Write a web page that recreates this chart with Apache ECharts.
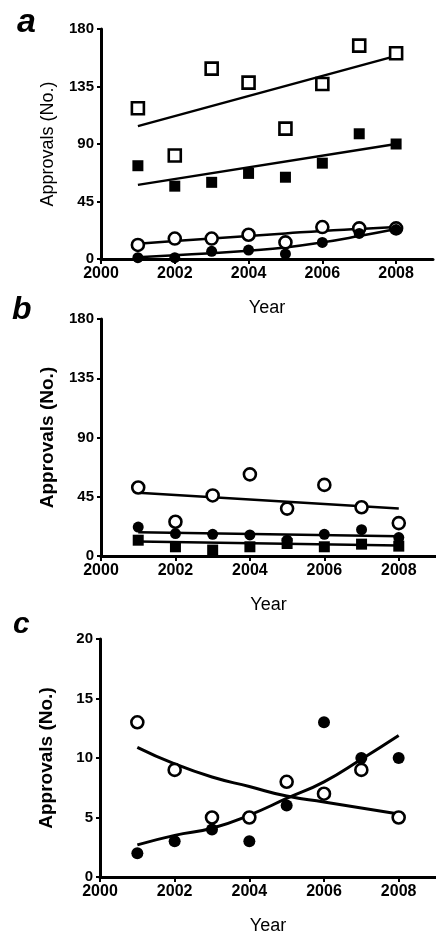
<!DOCTYPE html>
<html>
<head>
<meta charset="utf-8">
<script src="https://cdn.jsdelivr.net/npm/echarts@6/dist/echarts.min.js"></script>
<style>
html,body{margin:0;padding:0;background:#fff;}
#main{width:436px;height:936px;}
</style>
</head>
<body>
<div id="main"></div>
<script>
var years = [2001, 2002, 2003, 2004, 2005, 2006, 2007, 2008];
var fitEnds = [2001, 2008];
var xTicks = [2000, 2002, 2004, 2006, 2008];

// panel a
var aOpenSq = [118, 81, 149, 138, 102, 137, 167, 161];
var aFillSq = [73, 57, 60, 67, 64, 75, 98, 90];
var aOpenCirc = [11, 16, 16, 19, 13, 25, 24, 24];
var aFillCirc = [1, 1, 6, 7, 4, 13, 20, 23];
var aFitOpenSq = [104, 159];
var aFitFillSq = [58, 90];
var aFitOpenCirc = [12, 14, 16, 18, 20, 22, 23.5, 25];
var aFitFillCirc = [1.3, 3, 4.5, 6.5, 9, 13, 18, 23.5];

// panel b
var bOpenCirc = [52, 26, 46, 62, 36, 54, 37, 25];
var bFillCirc = [22, 17, 16.5, 16, 12, 16.5, 20, 14];
var bFillSq = [12, 7, 4.5, 7, 9.5, 7, 9, 7.5];
var bFitOpenCirc = [48, 36];
var bFitFillCirc = [18, 15];
var bFitFillSq = [11, 8];

// panel c
var cFill = [2, 3, 4, 3, 6, 13, 10, 10];
var cOpen = [13, 9, 5, 5, 8, 7, 9, 5];
var cFitFill = [2.7, 3.5, 4.1, 5.2, 6.6, 8.0, 9.9, 11.9];
var cFitOpen = [10.9, 9.5, 8.4, 7.6, 6.8, 6.3, 5.8, 5.3];

var font = 'Liberation Sans';

function pair(xs, ys) {
	return xs.map(function (x, i) { return [x, ys[i]]; });
}

function xAxisOf(idx) {
	return {
		gridIndex: idx, type: 'value', min: 2000, max: 2009,
		name: 'Year', nameLocation: 'middle', nameGap: 40,
		nameTextStyle: { fontFamily: font, fontSize: 18, color: '#000' },
		axisLine: { lineStyle: { color: '#000', width: 3 } },
		axisTick: { length: 5, lineStyle: { color: '#000', width: 2 }, customValues: xTicks },
		axisLabel: {
			fontFamily: font, fontWeight: 'bold', fontSize: 16, color: '#000', margin: 7,
			customValues: xTicks, formatter: function (v) { return String(v); }
		},
		splitLine: { show: false }
	};
}

function yAxisOf(idx, max, step, bold) {
	return {
		gridIndex: idx, type: 'value', min: 0, max: max, interval: step,
		name: 'Approvals (No.)', nameLocation: 'middle', nameGap: 44,
		nameTextStyle: { fontFamily: font, fontSize: bold ? 19 : 18, color: '#000', fontWeight: bold ? 'bold' : 'normal' },
		axisLine: { show: true, lineStyle: { color: '#000', width: 3 } },
		axisTick: { show: true, length: 4, lineStyle: { color: '#000', width: 2 } },
		axisLabel: { fontFamily: font, fontWeight: 'bold', fontSize: 15, color: '#000', margin: 7 },
		splitLine: { show: false }
	};
}

function dots(idx, data, symbol, filled, size) {
	return {
		type: 'scatter', xAxisIndex: idx, yAxisIndex: idx, data: data,
		symbol: symbol, symbolSize: size, z: 3,
		itemStyle: { color: filled ? '#000' : '#fff', borderColor: '#000', borderWidth: filled ? 0 : 2.6, opacity: 1 }
	};
}

function fit(idx, data, w) {
	return {
		type: 'line', xAxisIndex: idx, yAxisIndex: idx, data: data,
		showSymbol: false, smooth: true, z: 2,
		lineStyle: { color: '#000', width: w || 2.5 }
	};
}

var chart = echarts.init(document.getElementById('main'));
chart.setOption({
	animation: false,
	backgroundColor: '#fff',
	grid: [
		{ left: 101, top: 29, width: 332, height: 230 },
		{ left: 101, top: 319, width: 336, height: 237 },
		{ left: 100, top: 639, width: 343, height: 240 }
	],
	xAxis: [xAxisOf(0), xAxisOf(1), xAxisOf(2)],
	yAxis: [yAxisOf(0, 180, 45, false), yAxisOf(1, 180, 45, true), yAxisOf(2, 20, 5, true)],
	graphic: [
		{ type: 'text', left: 17, top: 6, style: { text: 'a', fontFamily: font, fontSize: 34, fontWeight: 'bold', fontStyle: 'italic', fill: '#000' } },
		{ type: 'text', left: 12, top: 294, style: { text: 'b', fontFamily: font, fontSize: 32, fontWeight: 'bold', fontStyle: 'italic', fill: '#000' } },
		{ type: 'text', left: 13, top: 610, style: { text: 'c', fontFamily: font, fontSize: 30, fontWeight: 'bold', fontStyle: 'italic', fill: '#000' } }
	],
	series: [
		fit(0, pair(fitEnds, aFitOpenSq)),
		fit(0, pair(fitEnds, aFitFillSq)),
		fit(0, pair(years, aFitOpenCirc)),
		fit(0, pair(years, aFitFillCirc)),
		dots(0, pair(years, aOpenSq), 'rect', false, 12),
		dots(0, pair(years, aFillSq), 'rect', true, 11),
		dots(0, pair(years, aOpenCirc), 'circle', false, 12),
		dots(0, pair(years, aFillCirc), 'circle', true, 11),

		fit(1, pair(fitEnds, bFitOpenCirc)),
		fit(1, pair(fitEnds, bFitFillCirc)),
		fit(1, pair(fitEnds, bFitFillSq)),
		dots(1, pair(years, bOpenCirc), 'circle', false, 12),
		dots(1, pair(years, bFillSq), 'rect', true, 11),
		dots(1, pair(years, bFillCirc), 'circle', true, 11),

		fit(2, pair(years, cFitFill), 3),
		fit(2, pair(years, cFitOpen), 3),
		dots(2, pair(years, cFill), 'circle', true, 12),
		dots(2, pair(years, cOpen), 'circle', false, 12)
	]
});
</script>
</body>
</html>
